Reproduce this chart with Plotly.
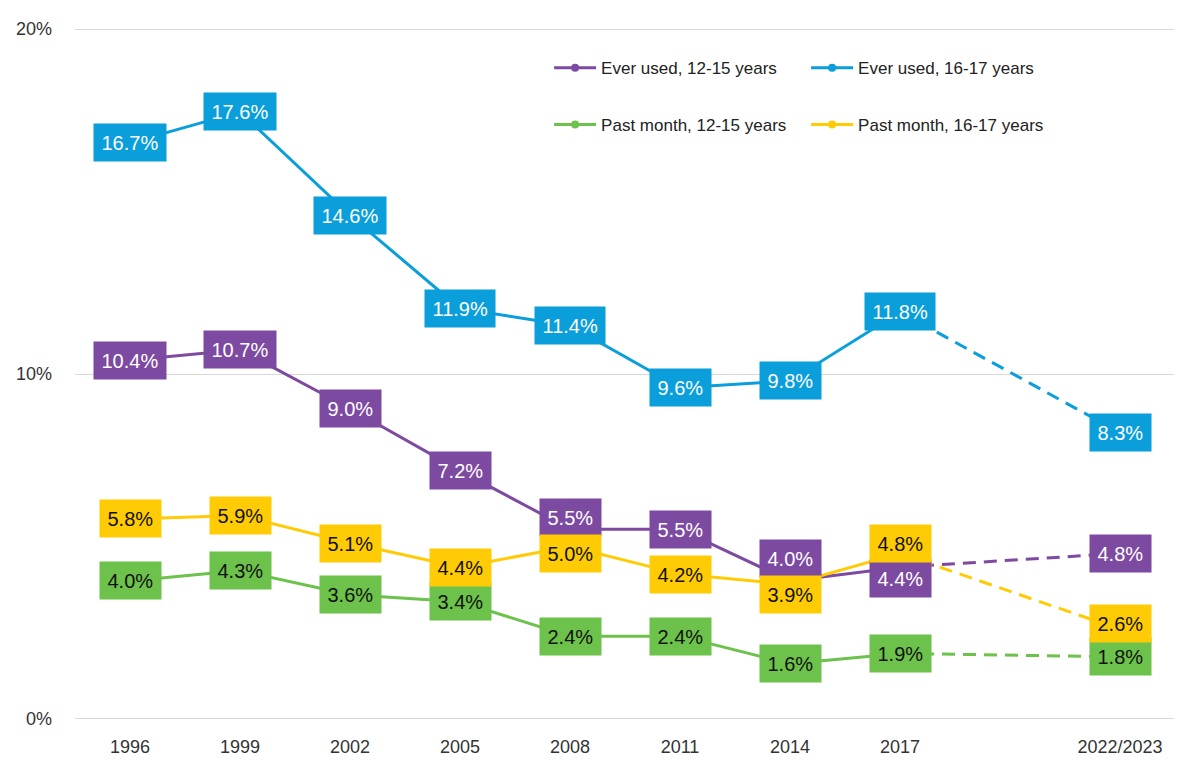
import plotly.graph_objects as go

# categories on the x axis (a blank slot keeps the gap before 2022/2023)
years = ["1996", "1999", "2002", "2005", "2008", "2011", "2014", "2017", "2022/2023"]
axis_categories = ["1996", "1999", "2002", "2005", "2008", "2011", "2014", "2017", " ", "2022/2023"]

ever_12_15 = [10.4, 10.7, 9.0, 7.2, 5.5, 5.5, 4.0, 4.4, 4.8]
ever_16_17 = [16.7, 17.6, 14.6, 11.9, 11.4, 9.6, 9.8, 11.8, 8.3]
month_12_15 = [4.0, 4.3, 3.6, 3.4, 2.4, 2.4, 1.6, 1.9, 1.8]
month_16_17 = [5.8, 5.9, 5.1, 4.4, 5.0, 4.2, 3.9, 4.8, 2.6]

series = [
    # name, values, colour, label text colour, legend
    ("Ever used, 12-15 years", ever_12_15, "#7D4AA1", "white", "legend"),
    ("Ever used, 16-17 years", ever_16_17, "#0A9EDB", "white", "legend"),
    ("Past month, 12-15 years", month_12_15, "#6CC24A", "#111111", "legend2"),
    ("Past month, 16-17 years", month_16_17, "#FFCB05", "#111111", "legend2"),
]

# labels nudged (in px) where they would overlap
label_shift = {
    ("Ever used, 12-15 years", "2008"): 12,
    ("Past month, 16-17 years", "2008"): -7,
    ("Ever used, 12-15 years", "2014"): 22,
    ("Past month, 16-17 years", "2014"): -10,
    ("Ever used, 12-15 years", "2017"): -11,
    ("Past month, 16-17 years", "2017"): 10,
    ("Past month, 16-17 years", "2022/2023"): 6,
}

FONT = "Liberation Sans"

fig = go.Figure()

for name, vals, color, txt, leg in series:
    # solid part up to 2017
    fig.add_trace(
        go.Scatter(
            x=years[:-1],
            y=vals[:-1],
            name=name,
            mode="lines+markers",
            line=dict(color=color, width=3),
            marker=dict(color=color, size=8),
            legend=leg,
        )
    )
    # dashed part to the latest survey
    fig.add_trace(
        go.Scatter(
            x=years[-2:],
            y=vals[-2:],
            mode="lines",
            line=dict(color=color, width=3, dash="13px,8px"),
            showlegend=False,
            hoverinfo="skip",
        )
    )
    # data labels (category axes want the category index here)
    for yr, v in zip(years, vals):
        fig.add_annotation(
            x=axis_categories.index(yr),
            y=v,
            text=f"{v:.1f}%",
            showarrow=False,
            bgcolor=color,
            borderpad=7.5,
            font=dict(family=FONT, size=20, color=txt),
            yshift=label_shift.get((name, yr), 0),
        )

fig.update_xaxes(
    type="category",
    categoryorder="array",
    categoryarray=axis_categories,
    range=[-0.5, 9.5],
    showgrid=False,
    showline=False,
    ticks="",
    ticklabelstandoff=14,
    automargin=False,
    tickfont=dict(family=FONT, size=18, color="#333333"),
)

# range padded a hair so the 0% and 20% gridlines are drawn
fig.update_yaxes(
    range=[-0.03, 20.03],
    tickvals=[0, 10, 20],
    ticktext=["0%", "10%", "20%"],
    showgrid=True,
    gridcolor="#D9D9D9",
    gridwidth=1,
    zeroline=False,
    ticklabelstandoff=22,
    automargin=False,
    tickfont=dict(family=FONT, size=18, color="#333333"),
)

legend_style = dict(
    orientation="h",
    xanchor="left",
    yanchor="middle",
    x=0.431,
    entrywidth=200,
    entrywidthmode="pixels",
    itemwidth=42,
    font=dict(family=FONT, size=17, color="#222222"),
    bgcolor="rgba(0,0,0,0)",
)

# the page body adds an 8px margin, so the figure is drawn 8px smaller
fig.update_layout(
    width=1174,
    height=752,
    margin=dict(l=67, r=7, t=20, b=40),
    plot_bgcolor="white",
    paper_bgcolor="white",
    font=dict(family=FONT),
    legend=dict(legend_style, y=0.942),
    legend2=dict(legend_style, y=0.86),
    hovermode=False,
)

fig.write_html("out.html")
